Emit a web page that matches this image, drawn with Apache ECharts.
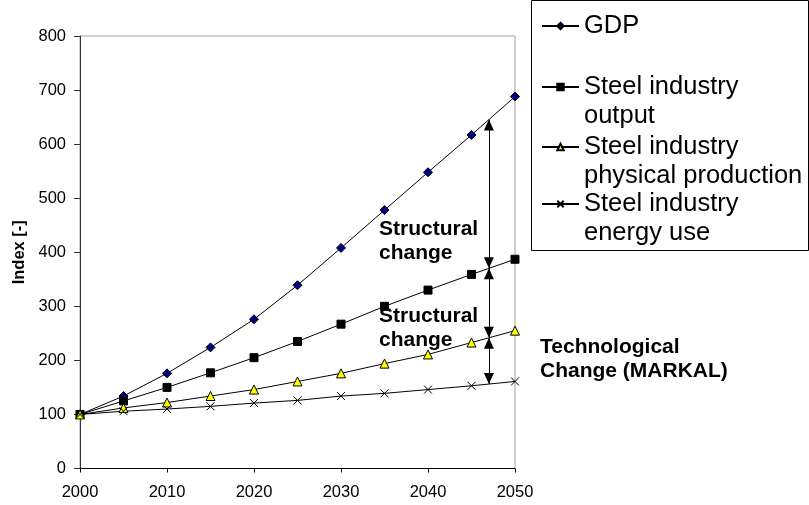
<!DOCTYPE html>
<html>
<head>
<meta charset="utf-8">
<script src="https://cdn.jsdelivr.net/npm/echarts@6/dist/echarts.min.js"></script>
<style>
  html, body { margin: 0; padding: 0; background: #fff; }
  #chart { width: 809px; height: 505px; }
</style>
</head>
<body>
<div id="chart"></div>
<script>
// Index values (2000 = 100)
const years = [2000, 2005, 2010, 2015, 2020, 2025, 2030, 2035, 2040, 2045, 2050];
const gdp = [100, 134, 176, 224, 276, 339, 408, 478, 548, 617, 688];
const steelOutput = [100, 125, 150, 177, 205, 235, 267, 300, 330, 359, 387];
const physicalProduction = [100, 112, 122, 134, 146, 161, 176, 194, 211, 233, 255];
const energyUse = [100, 106, 110, 115, 121, 126, 134, 139, 146, 153, 161];

const seriesNames = ['GDP', 'Steel industry output', 'Steel industry physical production', 'Steel industry energy use'];
const legendLabels = ['GDP', 'Steel industry\noutput', 'Steel industry\nphysical production', 'Steel industry\nenergy use'];

// axis ranges
const yRange = [0, 800, 100];
const xRange = [2000, 2050, 10];

// year where the decomposition arrows are drawn
const arrowYear = 2047;
const noteStructural = 'Structural\nchange';
const noteTechnological = 'Technological\nChange (MARKAL)';

const FONT = '"Liberation Sans", Arial, sans-serif';

// linear interpolation along a series
function valueAt(values, year) {
  for (let i = 0; i < years.length - 1; i++) {
    if (year >= years[i] && year <= years[i + 1]) {
      const t = (year - years[i]) / (years[i + 1] - years[i]);
      return values[i] + t * (values[i + 1] - values[i]);
    }
  }
  return values[values.length - 1];
}

const stack = [gdp, steelOutput, physicalProduction, energyUse].map(v => valueAt(v, arrowYear));
const arrowSegments = [[stack[0], stack[1]], [stack[1], stack[2]], [stack[2], stack[3]]];

function lineSeries(name, values, symbol, size, fill, extra) {
  return Object.assign({
    type: 'line',
    name: name,
    data: years.map((y, i) => [y, values[i]]),
    symbol: symbol,
    symbolSize: size,
    clip: false,
    lineStyle: { color: '#000', width: 1 },
    itemStyle: { color: fill, borderColor: '#000', borderWidth: 1 },
    emphasis: { disabled: true },
    animation: false
  }, extra || {});
}

// arrow end: a filled head whose tip sits on the end point
function arrowEnd(value) {
  return { coord: [arrowYear, value], symbol: 'triangle', symbolSize: [10, 11], symbolOffset: [0, 5.5] };
}

const chart = echarts.init(document.getElementById('chart'), null, { renderer: 'canvas' });

// two-line legend entries get a leading blank line so the marker sits on the first text line
const legendTops = [11.5, 43.5, 103.5, 160.5];

chart.setOption({
  animation: false,
  textStyle: { fontFamily: FONT },
  grid: {
    left: 80, right: 294, top: 36, bottom: 36.5,
    show: true, borderColor: '#a0a0a0', borderWidth: 1, backgroundColor: 'transparent'
  },
  xAxis: {
    type: 'value',
    min: xRange[0], max: xRange[1], interval: xRange[2],
    axisLine: { show: true, onZero: false, lineStyle: { color: '#000', width: 1 } },
    axisTick: { show: true, length: 4, lineStyle: { color: '#000' } },
    axisLabel: { fontSize: 16.5, color: '#000', margin: 15, formatter: v => String(v) },
    splitLine: { show: false }
  },
  yAxis: {
    type: 'value',
    min: yRange[0], max: yRange[1], interval: yRange[2],
    name: 'Index [-]',
    nameLocation: 'middle',
    nameGap: 52,
    nameTextStyle: { fontWeight: 'bold', fontSize: 16.5, color: '#000' },
    axisLine: { show: true, onZero: false, lineStyle: { color: '#333', width: 1 } },
    axisTick: { show: true, length: 6, lineStyle: { color: '#333' } },
    axisLabel: { fontSize: 16.5, color: '#000', margin: 14 },
    splitLine: { show: false }
  },
  legend: seriesNames.map((name, i) => ({
    data: [name],
    orient: 'vertical',
    left: 541,
    top: legendTops[i],
    padding: 0,
    itemWidth: 37,
    itemHeight: 8,
    itemGap: 0,
    selectedMode: false,
    formatter: () => (i === 0 ? legendLabels[i] : ' \n' + legendLabels[i]),
    textStyle: { fontSize: 25.5, lineHeight: 29, color: '#000' }
  })),
  graphic: [
    {
      type: 'rect', z: 0,
      shape: { x: 531.5, y: 0.5, width: 277, height: 250 },
      style: { fill: '#fff', stroke: '#000', lineWidth: 1 }
    },
    {
      type: 'text', left: 379, top: 217, z: 10,
      style: { text: noteStructural, font: 'bold 21px ' + FONT, fill: '#000', lineHeight: 24 }
    },
    {
      type: 'text', left: 379, top: 304, z: 10,
      style: { text: noteStructural, font: 'bold 21px ' + FONT, fill: '#000', lineHeight: 24 }
    },
    {
      type: 'text', left: 540, top: 335, z: 10,
      style: { text: noteTechnological, font: 'bold 21px ' + FONT, fill: '#000', lineHeight: 24 }
    }
  ],
  series: [
    lineSeries(seriesNames[0], gdp, 'diamond', 9, '#000080'),
    lineSeries(seriesNames[1], steelOutput, 'rect', 8, '#000'),
    lineSeries(seriesNames[2], physicalProduction, 'triangle', 9, '#ffff00'),
    lineSeries(seriesNames[3], energyUse, 'path://M0,0L10,10M10,0L0,10', 8, '#000', {
      markLine: {
        silent: true,
        animation: false,
        symbol: 'triangle',
        symbolSize: 10,
        label: { show: false },
        lineStyle: { color: '#000', width: 1, type: 'solid' },
        itemStyle: { color: '#000' },
        emphasis: { disabled: true },
        data: arrowSegments.map(([a, b]) => [arrowEnd(a), arrowEnd(b)])
      }
    })
  ]
});
</script>
</body>
</html>
